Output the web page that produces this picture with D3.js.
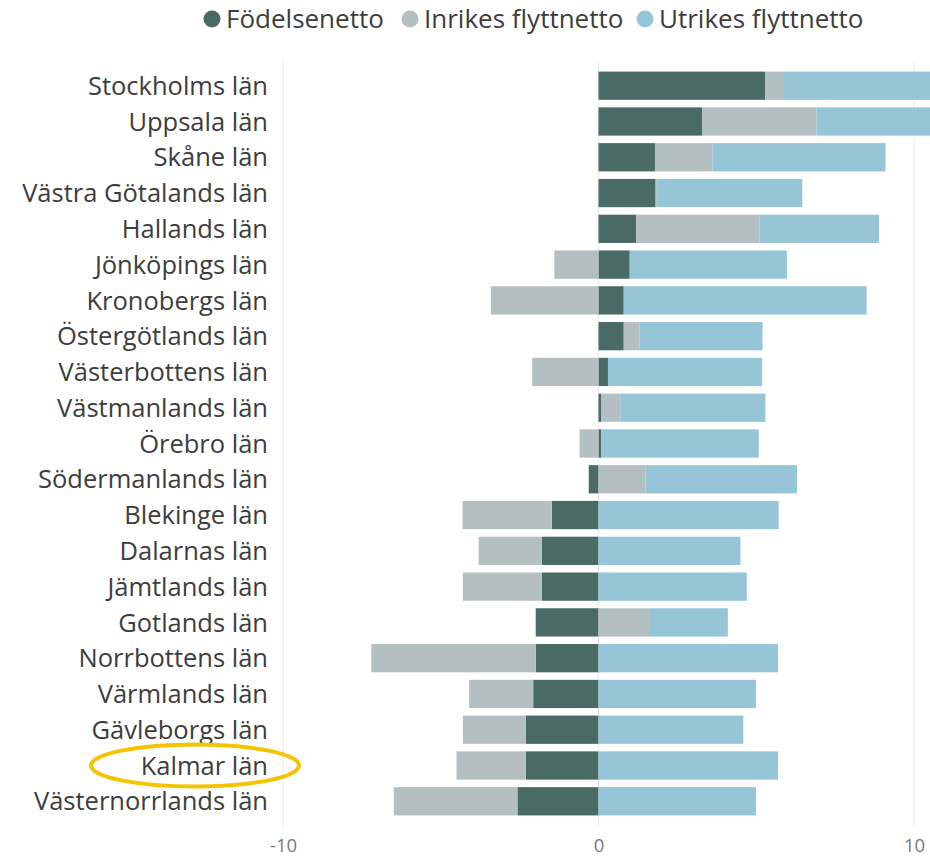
<!DOCTYPE html>
<html><head><meta charset="utf-8">
<script src="https://cdn.jsdelivr.net/npm/d3@7"></script>
<style>body{margin:0;background:#fff;}svg{display:block;}</style>
</head><body>
<svg id="chart" width="930" height="858"></svg>
<script>
const categories = ["Stockholms län","Uppsala län","Skåne län","Västra Götalands län","Hallands län","Jönköpings län","Kronobergs län","Östergötlands län","Västerbottens län","Västmanlands län","Örebro län","Södermanlands län","Blekinge län","Dalarnas län","Jämtlands län","Gotlands län","Norrbottens län","Värmlands län","Gävleborgs län","Kalmar län","Västernorrlands län"];
const seriesNames = ["Födelsenetto","Inrikes flyttnetto","Utrikes flyttnetto"];
const fodelsenetto = [5.28,3.28,1.79,1.81,1.2,0.99,0.8,0.8,0.3,0.08,0.08,-0.31,-1.48,-1.8,-1.8,-1.99,-1.99,-2.07,-2.3,-2.3,-2.57];
const inrikes = [0.6,3.63,1.82,0.07,3.9,-1.4,-3.41,0.5,-2.1,0.61,-0.6,1.49,-2.83,-2.0,-2.5,1.6,-5.21,-2.03,-2.0,-2.2,-3.92];
const utrikes = [5.7,4.0,5.49,4.58,3.79,4.98,7.7,3.9,4.89,4.6,5.0,4.8,5.71,4.5,4.7,2.5,5.69,4.99,4.59,5.69,4.99];
const tickValues = [-10,0,10];
const highlighted = "Kalmar län";
const colors = ["#4a6a66","#b4bfc1","#97c5d8"];

const rows = categories.map((c,i)=>({cat:c, "Födelsenetto":fodelsenetto[i], "Inrikes flyttnetto":inrikes[i], "Utrikes flyttnetto":utrikes[i]}));
const stack = d3.stack().keys(seriesNames).offset(d3.stackOffsetDiverging);
const layers = stack(rows);

const svg = d3.select("#chart");
const font = "'Open Sans', 'Noto Sans', sans-serif";
const x = d3.scaleLinear().domain([-10,10]).range([283,914]);
const y = d3.scaleBand().domain(categories).range([68,819]).paddingInner(0.21).paddingOuter(0.1);

// gridlines
svg.append("g").selectAll("line").data(tickValues).join("line")
  .attr("x1",d=>x(d)).attr("x2",d=>x(d)).attr("y1",62).attr("y2",826)
  .attr("stroke","#ececec").attr("stroke-width",1.2);

// bars
svg.append("g").selectAll("g").data(layers).join("g")
  .attr("fill",(d,i)=>colors[i])
  .selectAll("rect").data(d=>d).join("rect")
  .attr("x",d=>x(Math.min(d[0],d[1])))
  .attr("width",d=>Math.abs(x(d[1])-x(d[0])))
  .attr("y",d=>y(d.data.cat))
  .attr("height",y.bandwidth());

// category labels
svg.append("g").selectAll("text").data(categories).join("text")
  .attr("x",268).attr("y",d=>y(d)+y.bandwidth()/2)
  .attr("dy","0.36em").attr("text-anchor","end")
  .attr("font-family",font).attr("font-size",25.5).attr("fill","#3d3d3d")
  .text(d=>d);

// x axis ticks
const xAxis = d3.axisBottom(x).tickValues(tickValues).tickSize(0).tickPadding(0).tickFormat(d=>String(d));
const ax = svg.append("g").attr("transform","translate(0,852)").call(xAxis);
ax.select(".domain").remove();
ax.selectAll("text").attr("font-family",font).attr("font-size",18.5).attr("fill","#7a7a7a").attr("dy",0).attr("y",0);

// highlight ellipse
svg.append("ellipse")
  .attr("cx",195).attr("cy",y(highlighted)+y.bandwidth()/2)
  .attr("rx",104).attr("ry",21)
  .attr("fill","none").attr("stroke","#f6c300").attr("stroke-width",4);

// legend
const legendX = [212,410,645];
const lg = svg.append("g").selectAll("g").data(seriesNames).join("g")
  .attr("transform",(d,i)=>`translate(${legendX[i]},19)`);
lg.append("circle").attr("r",8.5).attr("fill",(d,i)=>colors[i]);
lg.append("text").attr("x",14).attr("dy","0.36em")
  .attr("font-family",font).attr("font-size",26).attr("fill","#3d3d3d").text(d=>d);
</script>
</body></html>
